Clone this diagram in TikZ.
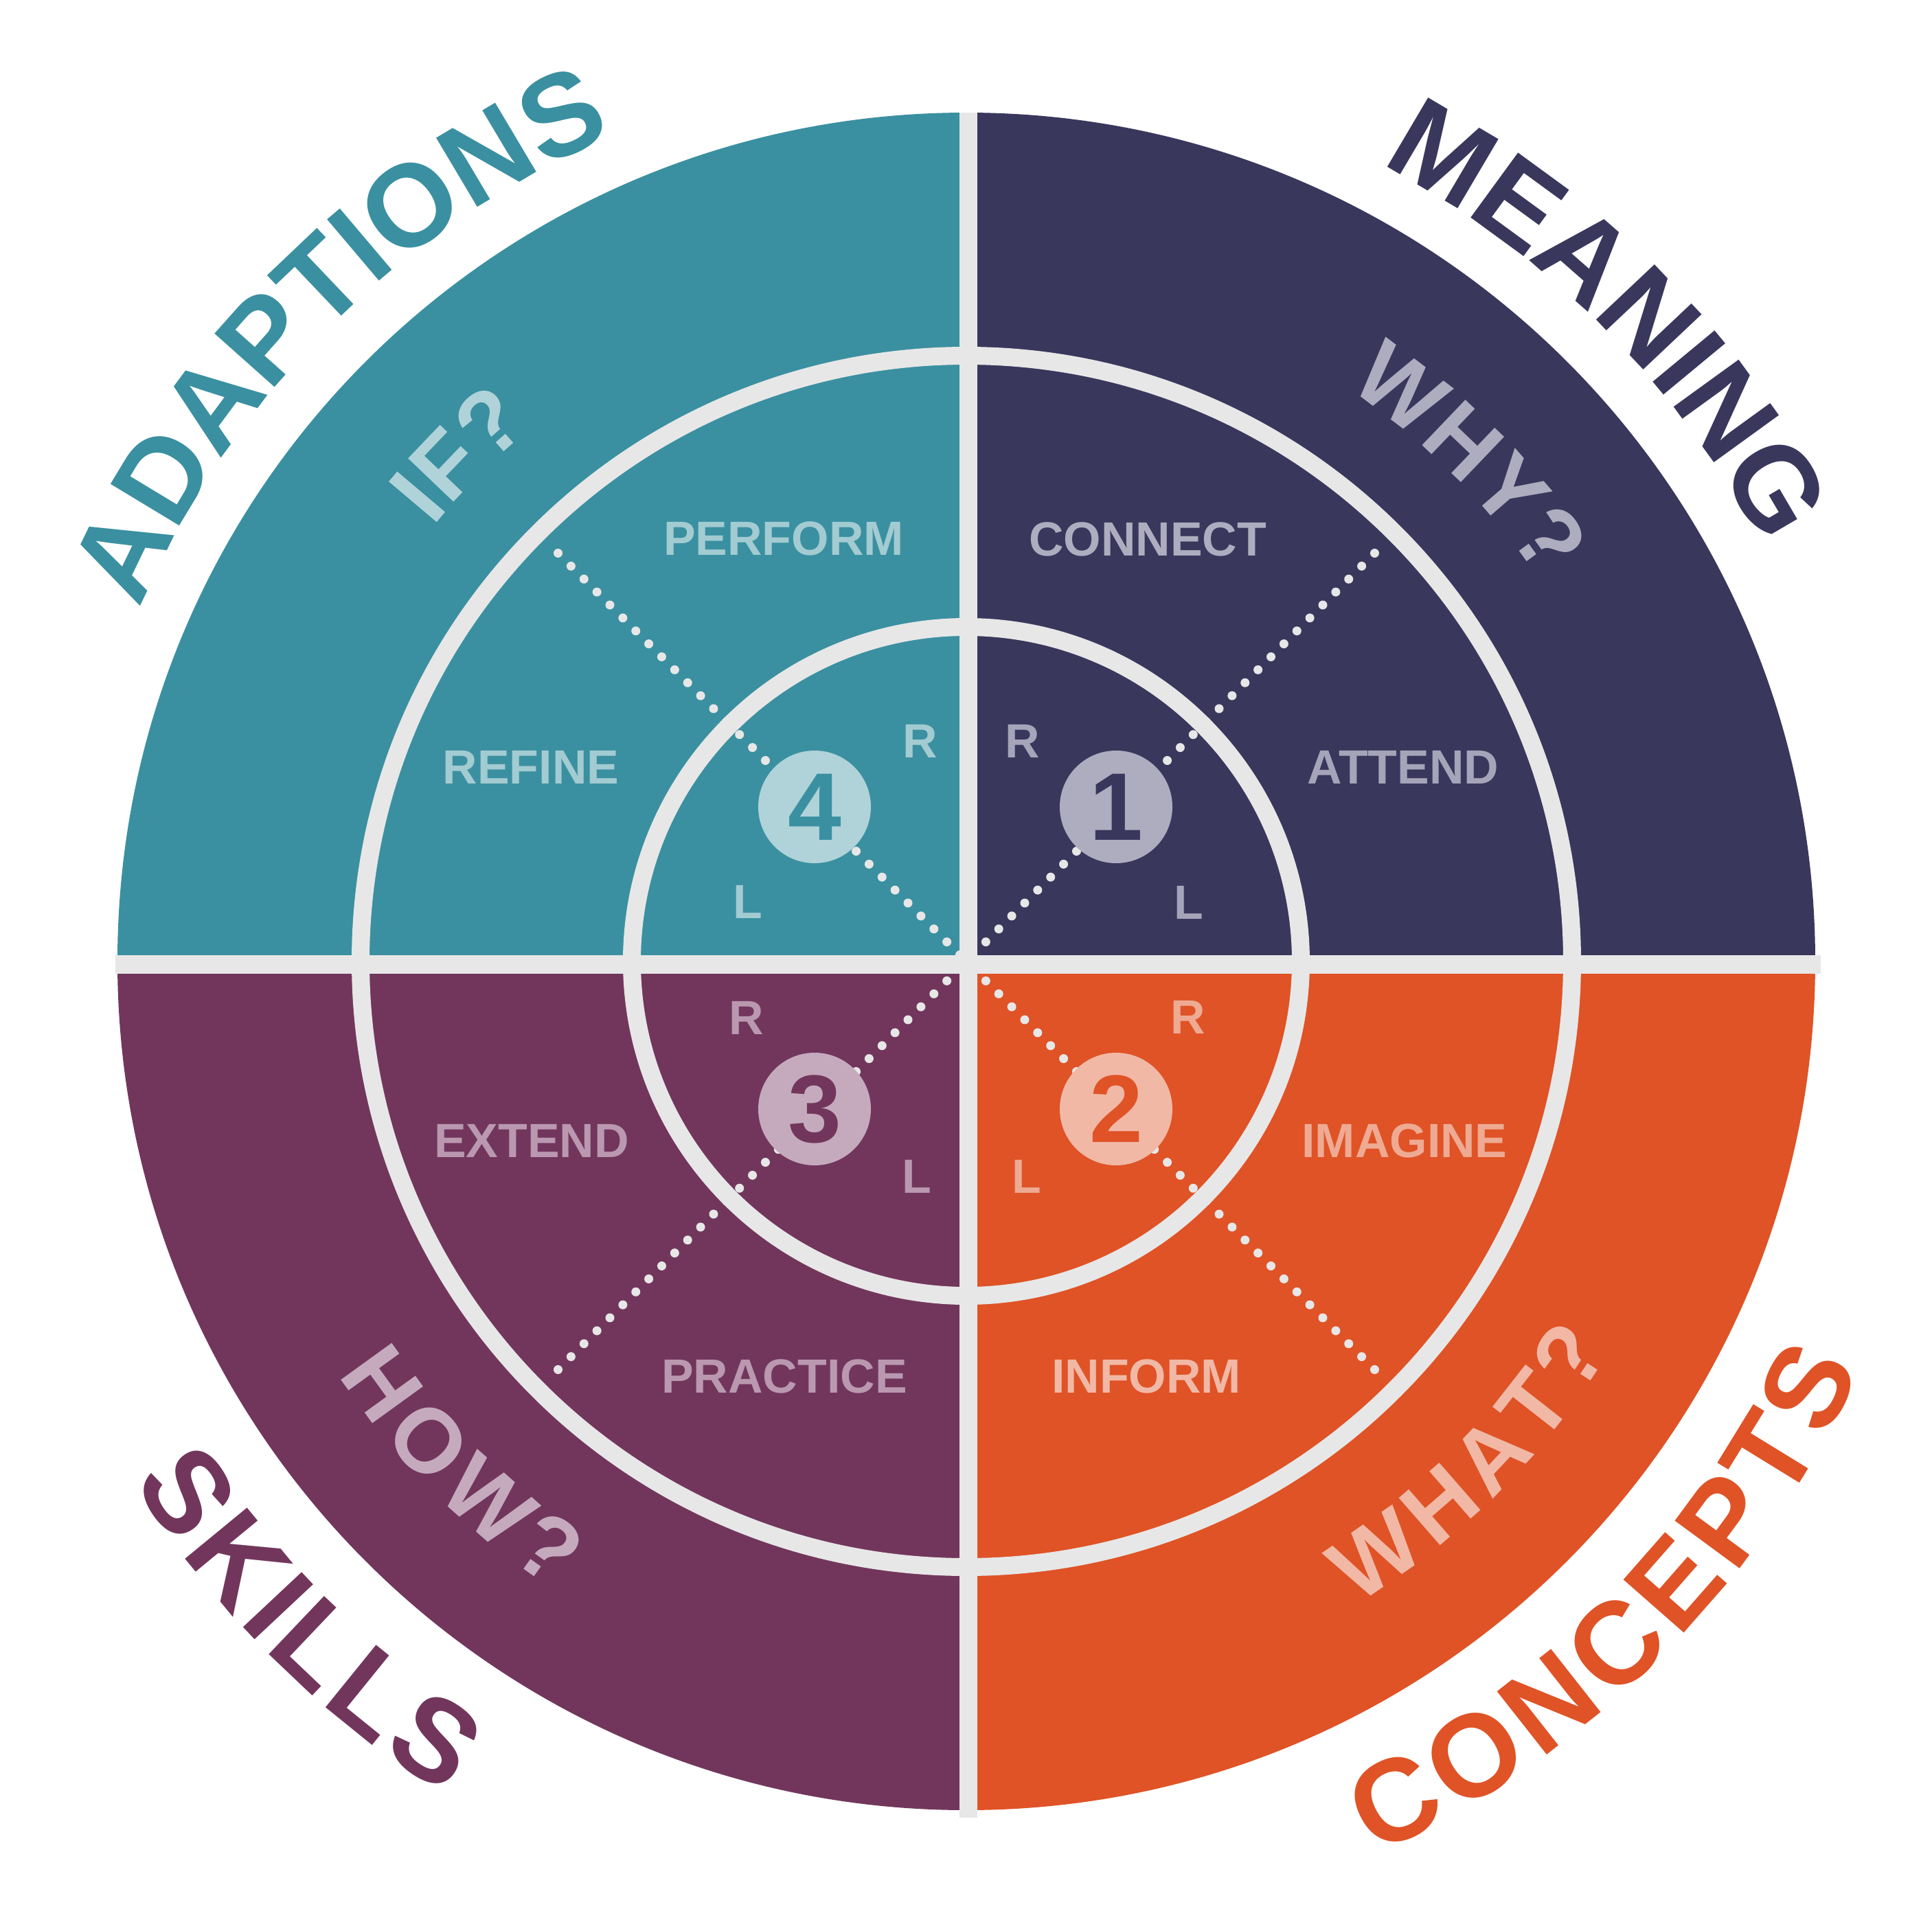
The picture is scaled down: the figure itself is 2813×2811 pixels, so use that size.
\documentclass[tikz,border=0pt]{standalone}
\usepackage{fontspec}
\setmainfont{Liberation Sans}
\usetikzlibrary{decorations.text}
\definecolor{cteal}{HTML}{3A90A0}
\definecolor{cnavy}{HTML}{39375C}
\definecolor{cplum}{HTML}{72365C}
\definecolor{corange}{HTML}{DF5326}
\definecolor{cgray}{HTML}{E7E7E7}
\definecolor{lteal}{HTML}{B0D3D9}
\definecolor{tteal}{HTML}{A3CBD2}
\definecolor{lnavy}{HTML}{AEADBF}
\definecolor{tnavy}{HTML}{A6A4B9}
\definecolor{lplum}{HTML}{C5AABE}
\definecolor{tplum}{HTML}{BA98B0}
\definecolor{lorange}{HTML}{F1B8A6}
\definecolor{torange}{HTML}{EEAA93}
\newcommand\lblOuter{\fontsize{48.4pt}{50pt}\selectfont\bfseries}
\newcommand\lblInner{\fontsize{37.8pt}{40pt}\selectfont\bfseries}
\newcommand\lblWord{\fontsize{19.9pt}{22pt}\selectfont\bfseries}
\newcommand\lblNum{\fontsize{39.8pt}{42pt}\selectfont\bfseries}
\tikzset{
  word/.style={inner sep=0pt, font=\lblWord, anchor=center},
  numcirc/.style={circle, minimum size=16.4mm, inner sep=0pt, font=\lblNum},
  ring/.style={draw=cgray, line width=2.6mm},
  dotmark/.style={fill=cgray},
  toparc/.style 2 args={decorate, decoration={text along path, text={|\lblOuter|#1}, text align=center, text color=#2, raise=-0.3mm}},
  botarc/.style 2 args={decorate, decoration={text along path, text={|\lblOuter|#1}, text align=center, text color=#2, raise=-12mm}},
  topin/.style 2 args={decorate, decoration={text along path, text={|\lblInner|#1}, text align=center, text color=#2, raise=2.9mm}},
  botin/.style 2 args={decorate, decoration={text along path, text={|\lblInner|#1}, text align=center, text color=#2, raise=-12.2mm}}
}
\begin{document}
\begin{tikzpicture}[x=0.1mm,y=0.1mm]
\path[use as bounding box, fill=white] (-1407,-1411) rectangle (1406,1400);
\coordinate (O) at (0,0);
% quadrants
\fill[cnavy] (O) -- (0:123.6mm) arc[start angle=0, end angle=90, radius=123.6mm] -- cycle;
\fill[cteal] (O) -- (90:123.6mm) arc[start angle=90, end angle=180, radius=123.6mm] -- cycle;
\fill[cplum] (O) -- (180:123.6mm) arc[start angle=180, end angle=270, radius=123.6mm] -- cycle;
\fill[corange] (O) -- (270:123.6mm) arc[start angle=270, end angle=360, radius=123.6mm] -- cycle;
% rings
\draw[ring] (O) circle[radius=88.2mm];
\draw[ring] (O) circle[radius=48.7mm];
% dotted diagonals
\foreach \k in {0,...,31}{
  \pgfmathsetmacro\a{9.5+18.87*\k}
  \foreach \sx/\sy in {1/1,1/-1,-1/1,-1/-1}{
    \fill[dotmark] ({\sx*\a},{\sy*\a}) circle[radius=0.65mm];
  }
}
% cross bars
\fill[cgray] (-10,-1247) rectangle (16,1236);
\fill[cgray] (-1239,-18) rectangle (1244,9);
% number circles
\node[numcirc, fill=lnavy, text=cnavy] (n1) at (218,225) {1};
\node[numcirc, fill=lorange, text=corange] (n2) at (218,-215) {2};
\node[numcirc, fill=lplum, text=cplum] (n3) at (-221,-215) {3};
\node[numcirc, fill=lteal, text=cteal] (n4) at (-221,225) {4};
% R / L
\node[word, text=tteal] (r4) at (-67,321) {R};
\node[word, text=tteal] (l4) at (-318,87) {L};
\node[word, text=tnavy] (r1) at (82,321) {R};
\node[word, text=tnavy] (l1) at (324,86) {L};
\node[word, text=torange] (r2) at (323,-81) {R};
\node[word, text=torange] (l2) at (88,-313) {L};
\node[word, text=tplum] (r3) at (-320,-82) {R};
\node[word, text=tplum] (l3) at (-72,-313) {L};
% quadrant words
\node[word, text=tteal] (perform) at (-266,616) {PERFORM};
\node[word, text=tteal] (refine) at (-634,283) {REFINE};
\node[word, text=lnavy] (connect) at (264,615) {CONNECT};
\node[word, text=tnavy] (attend) at (636,283) {ATTEND};
\node[word, text=torange] (imagine) at (638,-261) {IMAGINE};
\node[word, text=lorange] (inform) at (262,-604) {INFORM};
\node[word, text=tplum] (extend) at (-633,-261) {EXTEND};
\node[word, text=tplum] (practice) at (-265,-604) {PRACTICE};
% inner arc labels
\path[topin={IF?}{lteal}] (160:97.3mm) arc[start angle=160, end angle=110, radius=97.3mm];
\path[topin={WHY?}{lnavy}] (70:97.3mm) arc[start angle=70, end angle=20, radius=97.3mm];
\path[botin={HOW?}{lplum}] (200:97.3mm) arc[start angle=200, end angle=250, radius=97.3mm];
\path[botin={WHAT?}{lorange}] (290:97.3mm) arc[start angle=290, end angle=340, radius=97.3mm];
% outer arc labels
\path[toparc={ADAPTIONS}{cteal}] (165:131.1mm) arc[start angle=165, end angle=105, radius=131.1mm];
\path[toparc={MEANING}{cnavy}] (75:131.1mm) arc[start angle=75, end angle=15, radius=131.1mm];
\path[botarc={SKILLS}{cplum}] (195:131.1mm) arc[start angle=195, end angle=255, radius=131.1mm];
\path[botarc={CONCEPTS}{corange}] (285:131.1mm) arc[start angle=285, end angle=345, radius=131.1mm];
\end{tikzpicture}
\end{document}
